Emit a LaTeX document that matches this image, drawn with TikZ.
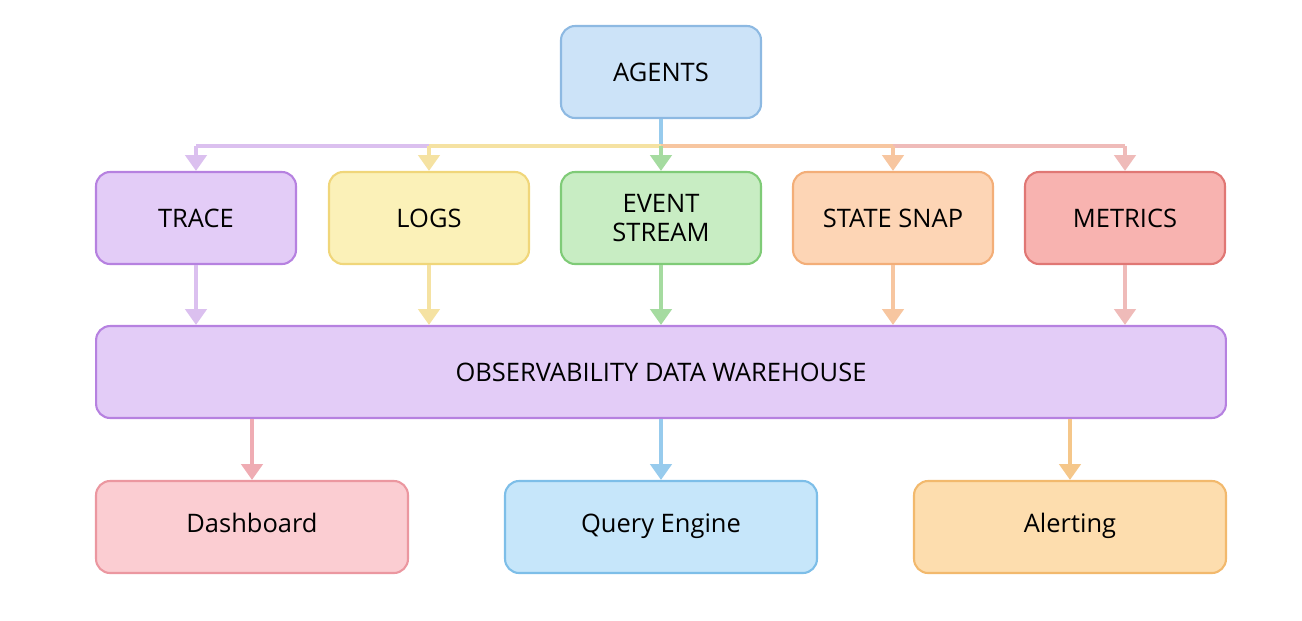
\documentclass[tikz,border=0pt]{standalone}
\usepackage{fontspec}
\setmainfont{Open Sans}
\usetikzlibrary{positioning,arrows.meta,calc}
\definecolor{agentfill}{HTML}{CCE3F8}\definecolor{agentline}{HTML}{8DB9E2}
\definecolor{tracefill}{HTML}{E3CCF7}\definecolor{traceline}{HTML}{B681E0}
\definecolor{logsfill}{HTML}{FBF1B8}\definecolor{logsline}{HTML}{F0D67A}
\definecolor{eventfill}{HTML}{C8EDC3}\definecolor{eventline}{HTML}{7FCB77}
\definecolor{statefill}{HTML}{FDD5B5}\definecolor{stateline}{HTML}{F3AE78}
\definecolor{metricfill}{HTML}{F8B3B0}\definecolor{metricline}{HTML}{E07774}
\definecolor{dashfill}{HTML}{FBCDD2}\definecolor{dashline}{HTML}{EB97A0}
\definecolor{queryfill}{HTML}{C6E6FA}\definecolor{queryline}{HTML}{7DBEE8}
\definecolor{alertfill}{HTML}{FDDDAE}\definecolor{alertline}{HTML}{F2B96D}
\begin{document}
\begin{tikzpicture}[x=0.02cm,y=-0.02cm,
    box/.style={rectangle, rounded corners=8pt, line width=1.2pt, minimum width=4cm, minimum height=1.84cm, align=center, font=\fontsize{14.5}{16}\selectfont},
    arrow/.style={-{Triangle[length=9pt,width=12pt]}, line width=2.2pt}
]
\useasboundingbox (0,0) rectangle (1302,620);

% Top
\node[box, fill=agentfill, draw=agentline] (agents) at (661,72) {AGENTS};

% Data sources
\node[box, fill=tracefill, draw=traceline] (trace) at (196,218) {TRACE};
\node[box, fill=logsfill, draw=logsline] (logs) at (429,218) {LOGS};
\node[box, fill=eventfill, draw=eventline] (event) at (661,218) {EVENT\\STREAM};
\node[box, fill=statefill, draw=stateline] (state) at (893,218) {STATE SNAP};
\node[box, fill=metricfill, draw=metricline] (metrics) at (1125,218) {METRICS};

% Warehouse
\node[box, fill=tracefill, draw=traceline, minimum width=22.6cm] (warehouse) at (661,372) {OBSERVABILITY DATA WAREHOUSE};

% Consumers
\node[box, fill=dashfill, draw=dashline, minimum width=6.24cm] (dash) at (252,527) {Dashboard\strut};
\node[box, fill=queryfill, draw=queryline, minimum width=6.24cm] (query) at (661,527) {Query Engine\strut};
\node[box, fill=alertfill, draw=alertline, minimum width=6.24cm] (alert) at (1070,527) {Alerting\strut};

% Fan-out bus
\coordinate (bus) at (661,146);
\draw[line width=2.2pt, queryline!80] (agents) -- (bus);
\draw[line width=2.2pt, traceline!50] (bus) -- (trace.north |- bus);
\draw[line width=2.2pt, logsline!70] (bus) -- ($(bus)!0.5!(trace.north |- bus)$);
\draw[line width=2.2pt, metricline!50] (bus) -- (metrics.north |- bus);
\draw[line width=2.2pt, stateline!70] (bus) -- ($(bus)!0.5!(metrics.north |- bus)$);
\draw[arrow, traceline!50] (trace.north |- bus) -- (trace);
\draw[arrow, logsline!70] (logs.north |- bus) -- (logs);
\draw[arrow, eventline!70] (bus) -- (event);
\draw[arrow, stateline!70] (state.north |- bus) -- (state);
\draw[arrow, metricline!50] (metrics.north |- bus) -- (metrics);

% Into warehouse
\foreach \n/\c in {trace/traceline!50, logs/logsline!70, event/eventline!70, state/stateline!70, metrics/metricline!50}
  \draw[arrow, \c] (\n) -- (\n |- warehouse.north);

% Out of warehouse
\draw[arrow, dashline!80] (dash |- warehouse.south) -- (dash);
\draw[arrow, queryline!80] (query |- warehouse.south) -- (query);
\draw[arrow, alertline!80] (alert |- warehouse.south) -- (alert);
\end{tikzpicture}
\end{document}
